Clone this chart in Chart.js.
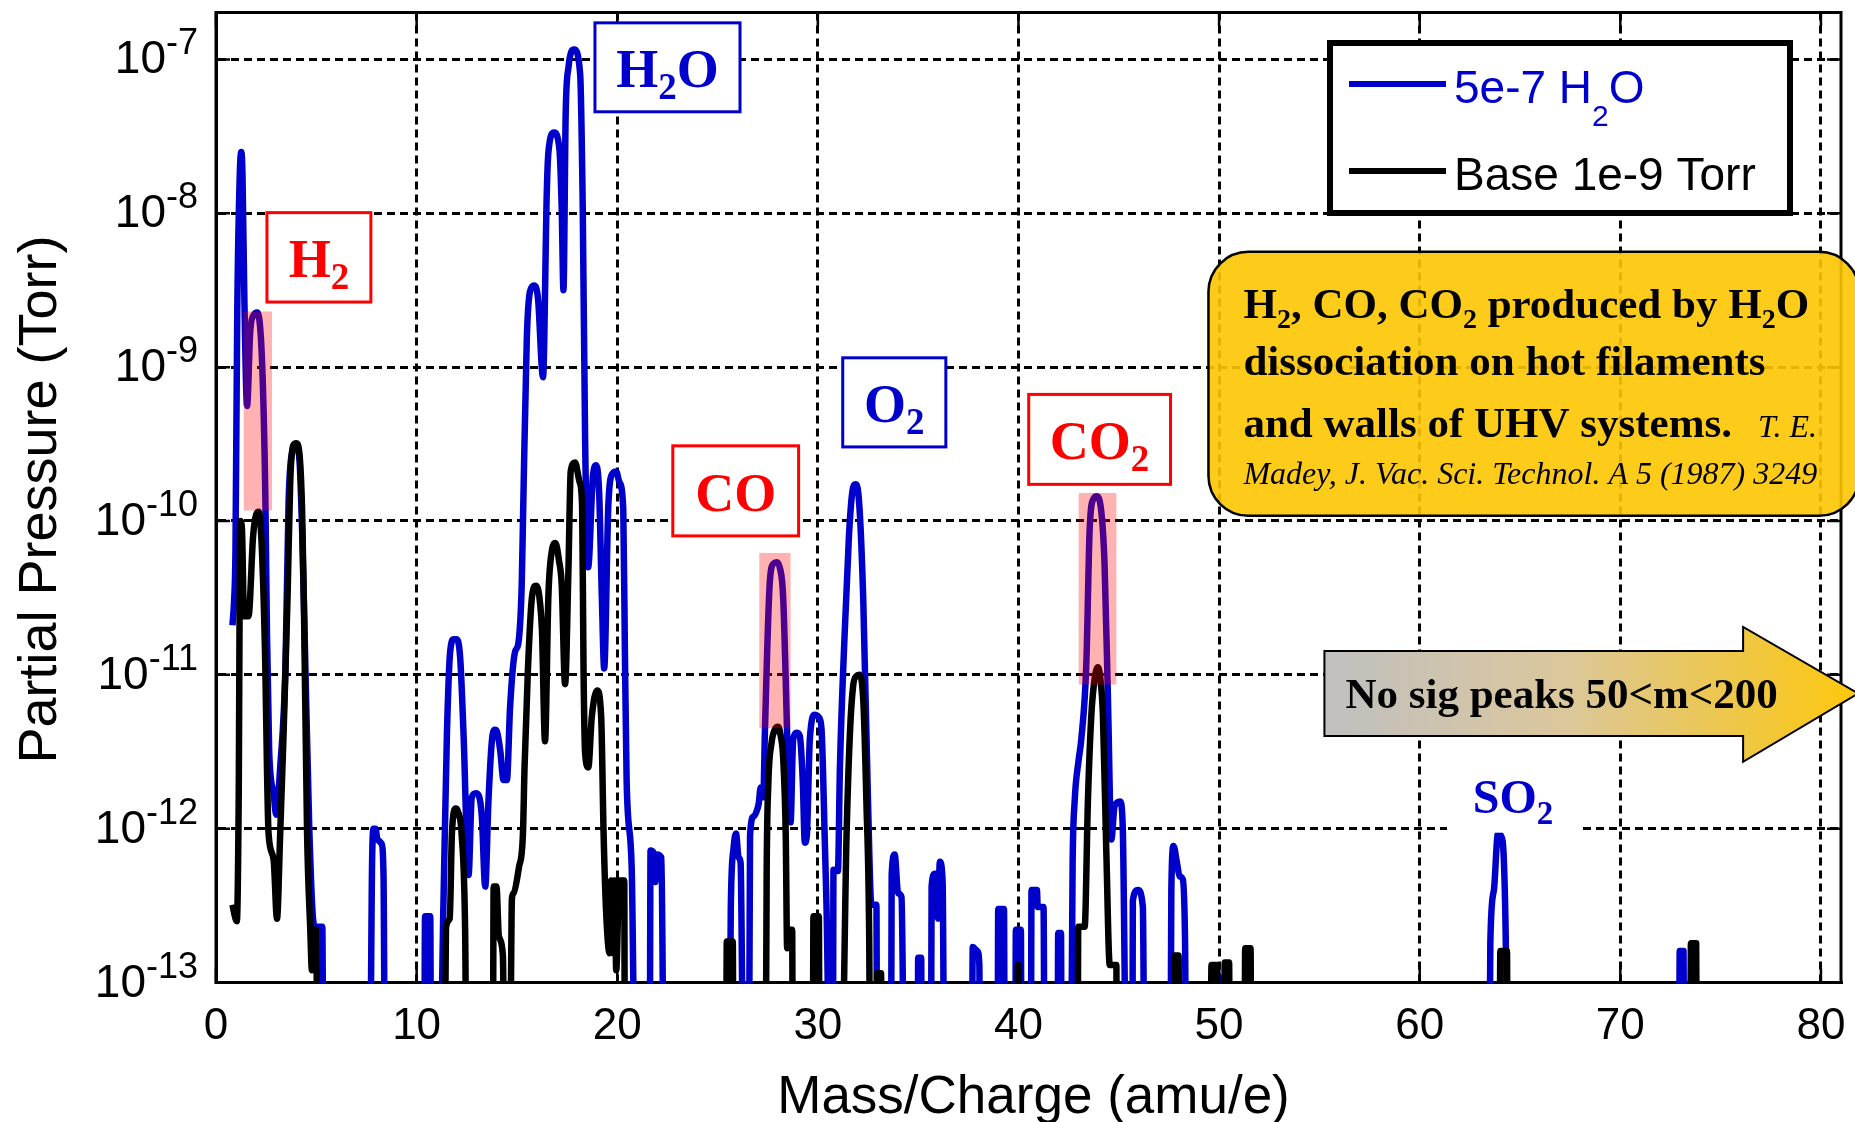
<!DOCTYPE html>
<html>
<head>
<meta charset="utf-8">
<title>Partial pressure scan</title>
<script src="https://cdn.jsdelivr.net/npm/chart.js@4.4.1/dist/chart.umd.min.js"></script>
<style>
  html, body { margin: 0; padding: 0; background: #fff; }
  #wrap { width: 1855px; height: 1122px; }
</style>
</head>
<body>
<div id="wrap"><canvas id="chart"></canvas></div>
<script>
"use strict";

// below the bottom of the axis: the trace drops straight to the floor
const F = 3e-14;

// [mass/charge, partial pressure (Torr)] - chamber dosed with 5e-7 Torr of water
const waterScan = [
  [0.82, 2.1e-11], [0.9, 3e-11], [0.97, 6.4e-11], [1.06, 2.3e-9], [1.18, 1.7e-8], [1.26, 2.5e-8],
  [1.32, 1.8e-8], [1.42, 2.5e-9], [1.55, 5.6e-10], [1.71, 1.74e-9], [1.9, 2.2e-9], [2.05, 2.27e-9],
  [2.3, 1.05e-9], [2.46, 1.43e-10], [2.54, 1.9e-11], [2.65, 3.2e-12], [2.87, 1.7e-12], [3.0, 1.23e-12],
  [3.2, 2.5e-12], [3.46, 1.1e-11], [3.62, 1.36e-10], [3.8, 2.8e-10], [4.0, 3.0e-10], [4.15, 2.6e-10],
  [4.3, 8e-11], [4.45, 1.2e-11], [4.65, 1e-12], [4.85, 2.5e-13], [4.95, 2.3e-13], [5.3, 2.3e-13], [5.35, F],
  [7.68, F], [7.78, 6e-13], [7.85, 1e-12], [7.95, 1e-12], [8.05, 8.5e-13], [8.25, 8e-13], [8.35, 5e-13], [8.42, F],
  [10.38, F], [10.42, 2.7e-13], [10.68, 2.7e-13], [10.72, F],
  [11.17, F], [11.34, 3.4e-13], [11.51, 4.1e-12], [11.67, 1.4e-11], [11.85, 1.7e-11], [11.98, 1.7e-11],
  [12.17, 1.3e-11], [12.34, 4.1e-12], [12.59, 5e-13], [12.75, 1.6e-12], [12.95, 1.7e-12], [13.09, 1.65e-12],
  [13.25, 1.2e-12], [13.42, 4.2e-13], [13.58, 1.5e-12], [13.75, 3.7e-12], [13.9, 4.4e-12], [14.0, 4.3e-12],
  [14.17, 3.2e-12], [14.33, 2.07e-12], [14.5, 2.07e-12], [14.66, 6.2e-12], [14.9, 1.4e-11], [15.07, 1.6e-11],
  [15.24, 3.9e-11], [15.32, 1.35e-10], [15.49, 1.5e-9], [15.65, 3.1e-9], [15.85, 3.4e-9], [16.05, 2.8e-9],
  [16.3, 8.6e-10], [16.49, 1.4e-8], [16.57, 2.5e-8], [16.85, 3.35e-8], [17.12, 2.6e-8], [17.23, 1.1e-8],
  [17.32, 3.16e-9], [17.43, 4.4e-8], [17.57, 8.9e-8], [17.85, 1.16e-7], [18.15, 8.1e-8], [18.28, 1.1e-8],
  [18.4, 3.3e-10], [18.55, 5e-11], [18.78, 1.9e-10], [18.95, 2.3e-10], [19.1, 1.5e-10], [19.23, 3.3e-11],
  [19.35, 1.1e-11], [19.56, 1.3e-10], [19.78, 2.05e-10], [19.95, 2.1e-10], [20.1, 1.8e-10], [20.3, 1.2e-10],
  [20.38, 1.5e-11], [20.47, 2e-12], [20.72, 5.6e-13], [20.88, F],
  [21.62, F], [21.66, 7.2e-13], [21.8, 7e-13], [21.9, 4.5e-13], [21.97, 6.8e-13], [22.2, 6.5e-13], [22.32, F],
  [25.6, F], [25.66, 3e-13], [25.8, 7.5e-13], [25.92, 9.3e-13], [26.05, 6.5e-13], [26.15, 6e-13], [26.28, F],
  [26.57, F], [26.62, 9e-13], [26.8, 1.2e-12], [26.95, 1.3e-12], [27.05, 1.45e-12], [27.15, 1.85e-12],
  [27.28, 1.6e-12], [27.36, 4.2e-12], [27.61, 4.1e-11], [27.8, 5.3e-11], [27.94, 5.4e-11], [28.1, 5e-11],
  [28.27, 3.2e-11], [28.52, 2.5e-12], [28.64, 1.1e-12], [28.77, 3.8e-12], [28.94, 4.2e-12], [29.1, 4e-12],
  [29.25, 2e-12], [29.35, 8.1e-13], [29.45, 9e-13], [29.6, 3.8e-12], [29.85, 5.5e-12], [30.05, 5.3e-12],
  [30.18, 4.5e-12], [30.35, 8e-13], [30.43, 3.2e-13], [30.58, F],
  [30.75, F], [30.78, 5.4e-13], [31.0, 5.3e-13], [31.1, 2.5e-12], [31.34, 1.9e-11], [31.55, 8e-11],
  [31.72, 1.55e-10], [31.87, 1.73e-10], [32.02, 1.5e-10], [32.26, 3.2e-11], [32.5, 1.5e-12], [32.67, 3.2e-13],
  [32.92, 3.2e-13], [32.95, F],
  [33.65, F], [33.68, 5e-13], [33.83, 6.8e-13], [34.0, 3.8e-13], [34.17, 3.6e-13], [34.3, F],
  [34.98, F], [35.0, 1.45e-13], [35.15, 1.45e-13], [35.18, F],
  [35.64, F], [35.67, 4.2e-13], [35.83, 5.1e-13], [35.99, 2.6e-13], [36.08, 6.1e-13], [36.22, 4.5e-13], [36.3, F],
  [37.68, F], [37.72, 1.7e-13], [37.95, 1.6e-13], [38.05, 1.3e-13], [38.08, F],
  [38.96, F], [38.99, 3e-13], [39.28, 3e-13], [39.31, F],
  [39.84, F], [39.87, 2.2e-13], [40.12, 2.2e-13], [40.15, F],
  [40.62, F], [40.65, 4e-13], [40.92, 4e-13], [40.96, 3.1e-13], [41.25, 3.1e-13], [41.3, F],
  [41.95, F], [41.98, 2.1e-13], [42.12, 2.1e-13], [42.15, F],
  [42.62, F], [42.7, 6e-13], [42.8, 1.5e-12], [43.0, 2.8e-12], [43.13, 3.8e-12], [43.38, 1.15e-11],
  [43.55, 8.9e-11], [43.75, 1.4e-10], [43.9, 1.45e-10], [44.05, 1.35e-10], [44.29, 5.3e-11], [44.46, 7e-12],
  [44.63, 8.5e-13], [44.79, 1.4e-12], [45.07, 1.5e-12], [45.2, 1e-12], [45.37, F],
  [45.68, F], [45.7, 3.4e-13], [45.95, 4e-13], [46.2, 3.1e-13], [46.28, F],
  [47.58, F], [47.62, 4e-13], [47.73, 7.7e-13], [47.9, 6e-13], [48.03, 4.9e-13], [48.19, 4.7e-13], [48.3, 2e-13], [48.36, F],
  [49.85, F], [49.88, 1.1e-13], [49.98, 1.1e-13], [50.0, F],
  [63.48, F], [63.52, 1.8e-13], [63.7, 4e-13], [63.9, 9.3e-13], [64.05, 9e-13], [64.2, 6e-13], [64.3, 1.5e-13], [64.35, F],
  [72.93, F], [72.96, 1.6e-13], [73.15, 1.6e-13], [73.18, F]
];

// [mass/charge, partial pressure (Torr)] - base vacuum, 1e-9 Torr
const baseScan = [
  [0.82, 3.2e-13], [0.97, 2.6e-13], [1.04, 2.5e-13], [1.13, 1.5e-12], [1.21, 1e-10], [1.29, 9e-11],
  [1.4, 2.4e-11], [1.62, 2.4e-11], [1.85, 8e-11], [2.0, 1.1e-10], [2.13, 1.15e-10], [2.29, 6.4e-11],
  [2.46, 1.1e-11], [2.54, 2.5e-12], [2.62, 9.3e-13], [2.87, 6.3e-13], [3.04, 2.6e-13], [3.2, 9.3e-13],
  [3.37, 4.2e-12], [3.57, 3.3e-11], [3.7, 1.8e-10], [3.85, 3.1e-10], [4.0, 3.2e-10], [4.15, 2.8e-10],
  [4.29, 1.2e-10], [4.38, 3e-11], [4.54, 9.3e-13], [4.7, 2.2e-13], [4.78, 1.2e-13], [4.82, 2.2e-13],
  [5.0, 2.2e-13], [5.05, F],
  [11.4, F], [11.47, 2.3e-13], [11.65, 2.6e-13], [11.76, 9.3e-13], [11.95, 1.35e-12], [12.05, 1.3e-12],
  [12.25, 9e-13], [12.42, 2.1e-13], [12.48, F],
  [13.8, F], [13.84, 4.2e-13], [13.98, 4.2e-13], [14.1, 2e-13], [14.3, 1.5e-13], [14.37, F],
  [14.66, F], [14.75, 3.5e-13], [14.83, 3.8e-13], [15.1, 5.6e-13], [15.3, 9.3e-13], [15.38, 2.5e-12],
  [15.55, 1.1e-11], [15.75, 3.2e-11], [15.95, 3.8e-11], [16.12, 3.2e-11], [16.25, 1.9e-11], [16.4, 3.7e-12],
  [16.57, 3.3e-11], [16.75, 6.5e-11], [16.92, 7.2e-11], [17.1, 5.5e-11], [17.23, 3.9e-11], [17.4, 8.7e-12],
  [17.57, 5e-11], [17.68, 2.1e-10], [17.9, 2.4e-10], [18.12, 1.8e-10], [18.25, 1.25e-10], [18.32, 1.1e-11],
  [18.4, 3.1e-12], [18.56, 2.5e-12], [18.73, 5.3e-12], [19.0, 7.9e-12], [19.2, 5.3e-12], [19.32, 9.3e-13],
  [19.45, 2.8e-13], [19.62, 1.55e-13], [19.7, 4.6e-13], [19.78, 1.55e-13], [19.87, 4.6e-13], [19.95, 1.2e-13],
  [20.1, 4.6e-13], [20.35, 4.6e-13], [20.38, F],
  [25.43, F], [25.46, 1.85e-13], [25.76, 1.85e-13], [25.79, F],
  [27.4, F], [27.45, 5.5e-13], [27.53, 1.94e-12], [27.69, 3.6e-12], [27.85, 4.4e-12], [28.02, 4.6e-12],
  [28.15, 4e-12], [28.27, 2.9e-12], [28.4, 9e-13], [28.47, 1.67e-13], [28.5, 2.2e-13], [28.72, 2.2e-13], [28.75, F],
  [29.75, F], [29.78, 2.7e-13], [30.05, 2.7e-13], [30.08, F],
  [31.2, F], [31.43, 9e-13], [31.6, 4.2e-12], [31.76, 8.5e-12], [31.92, 9.8e-12], [32.06, 1e-11],
  [32.26, 7e-12], [32.42, 1.5e-12], [32.56, 1.95e-13], [32.6, F],
  [32.93, F], [32.96, 1.15e-13], [33.15, 1.15e-13], [33.18, F],
  [39.95, F], [39.97, 1.3e-13], [40.0, 1.3e-13], [40.02, F],
  [42.95, F], [42.98, 2.3e-13], [43.3, 2.3e-13], [43.46, 1.5e-12], [43.63, 5.4e-12], [43.8, 9.5e-12],
  [43.96, 1.12e-11], [44.08, 9.5e-12], [44.21, 5.4e-12], [44.38, 7e-13], [44.55, 1.3e-13], [44.88, 1.3e-13], [44.9, F],
  [47.75, F], [47.78, 1.5e-13], [47.98, 1.5e-13], [48.01, F],
  [49.58, F], [49.62, 1.3e-13], [49.9, 1.3e-13], [49.93, F],
  [50.25, F], [50.28, 1.35e-13], [50.5, 1.35e-13], [50.53, F],
  [51.27, F], [51.3, 1.67e-13], [51.57, 1.67e-13], [51.6, F],
  [63.98, F], [64.02, 1.6e-13], [64.35, 1.6e-13], [64.38, F],
  [73.48, F], [73.52, 1.8e-13], [73.78, 1.8e-13], [73.81, F]
];

const seriesLabels = ['5e-7 H_2O', 'Base 1e-9 Torr'];
const decades = [1e-13, 1e-12, 1e-11, 1e-10, 1e-9, 1e-8, 1e-7];
const massRange = [0, 81];
const pressureRange = [1e-13, 2.02e-7];

// peaks of the dissociation products, shaded
const highlights = [
  { m: [1.38, 2.79], p: [1.17e-10, 2.3e-9] },
  { m: [27.08, 28.64], p: [4.5e-12, 6.2e-11] },
  { m: [43.0, 44.88], p: [8.65e-12, 1.52e-10] }
];

// "_x" marks a one-character subscript
const peakLabels = [
  { text: 'H_2',  color: 'red',  m: [2.54, 7.72],   p: [2.65e-9, 1.01e-8] },
  { text: 'H_2O', color: 'blue', m: [18.89, 26.12], p: [4.57e-8, 1.73e-7] },
  { text: 'CO',   color: 'red',  m: [22.77, 29.04], p: [8.0e-11, 3.08e-10] },
  { text: 'O_2',  color: 'blue', m: [31.24, 36.38], p: [3.03e-10, 1.15e-9] },
  { text: 'CO_2', color: 'red',  m: [40.51, 47.58], p: [1.73e-10, 6.65e-10] }
];
const looseLabels = [
  { text: 'SO_2', color: 'blue', m: 64.65, p: 1.27e-12 }
];

const note = {
  m: [49.47, 81.9], p: [1.08e-10, 5.62e-9],
  lines: ['H_2, CO, CO_2 produced by H_2O', 'dissociation on hot filaments', 'and walls of UHV systems.'],
  cite: ['T. E.', 'Madey, J. Vac. Sci. Technol. A 5 (1987) 3249']
};

const arrow = {
  m: [55.25, 76.12, 81.85], body: [4.0e-12, 1.43e-11], head: [2.72e-12, 2.05e-11],
  text: 'No sig peaks 50<m<200'
};

const COLORS = { blue: '#0000cc', red: '#ff0000' };
const SANS = '"Liberation Sans", Arial, sans-serif';
const SERIF = '"Liberation Serif", "Times New Roman", serif';

function toPoints(scan) {
  return scan.map(function(d) { return { x: d[0], y: d[1] }; });
}

function richParts(str) {
  const parts = [];
  let buf = '';
  for (let i = 0; i < str.length; i++) {
    if (str[i] === '_') {
      if (buf) parts.push({ t: buf, sub: false });
      buf = '';
      parts.push({ t: str[++i], sub: true });
    } else {
      buf += str[i];
    }
  }
  if (buf) parts.push({ t: buf, sub: false });
  return parts;
}

// draws text with subscripts, returns its width
function drawRich(ctx, str, x, y, o) {
  const parts = richParts(str);
  const fontOf = function(p) { return (o.style || '') + ' ' + (p.sub ? o.subSize : o.size) + 'px ' + o.family; };
  let w = 0;
  parts.forEach(function(p) { ctx.font = fontOf(p); p.w = ctx.measureText(p.t).width; w += p.w; });
  let cx = o.center ? x - w / 2 : x;
  ctx.textAlign = 'left';
  ctx.textBaseline = 'alphabetic';
  parts.forEach(function(p) {
    ctx.font = fontOf(p);
    ctx.fillText(p.t, cx, p.sub ? y + o.subDrop : y);
    cx += p.w;
  });
  return w;
}

function boxOf(chart, m, p) {
  const xs = chart.scales.x, ys = chart.scales.y;
  const left = xs.getPixelForValue(m[0]), right = xs.getPixelForValue(m[1]);
  const top = ys.getPixelForValue(p[1]), bottom = ys.getPixelForValue(p[0]);
  return { left: left, top: top, right: right, bottom: bottom, w: right - left, h: bottom - top };
}

function roundRectPath(ctx, x, y, w, h, r) {
  ctx.beginPath();
  ctx.moveTo(x + r, y);
  ctx.arcTo(x + w, y, x + w, y + h, r);
  ctx.arcTo(x + w, y + h, x, y + h, r);
  ctx.arcTo(x, y + h, x, y, r);
  ctx.arcTo(x, y, x + w, y, r);
  ctx.closePath();
}

function drawFrame(chart) {
  const ctx = chart.ctx, a = chart.chartArea, xs = chart.scales.x, ys = chart.scales.y;
  ctx.save();
  ctx.strokeStyle = '#000';
  ctx.lineWidth = 2.5;
  ctx.beginPath();
  xs.ticks.forEach(function(t) {
    const px = xs.getPixelForValue(t.value);
    ctx.moveTo(px, a.top); ctx.lineTo(px, a.top + 14);
    ctx.moveTo(px, a.bottom); ctx.lineTo(px, a.bottom - 14);
  });
  ys.ticks.forEach(function(t) {
    const py = ys.getPixelForValue(t.value);
    ctx.moveTo(a.left, py); ctx.lineTo(a.left + 14, py);
    ctx.moveTo(a.right, py); ctx.lineTo(a.right - 14, py);
  });
  ctx.stroke();
  ctx.lineWidth = 3;
  ctx.strokeRect(a.left, a.top, a.right - a.left, a.bottom - a.top);
  ctx.restore();
}

function drawHighlights(chart) {
  const ctx = chart.ctx;
  ctx.save();
  ctx.fillStyle = 'rgba(255, 0, 0, 0.3)';
  highlights.forEach(function(h) {
    const b = boxOf(chart, h.m, h.p);
    ctx.fillRect(b.left, b.top, b.w, b.h);
  });
  ctx.restore();
}

function drawPeakLabels(chart) {
  const ctx = chart.ctx;
  ctx.save();
  peakLabels.forEach(function(l) {
    const b = boxOf(chart, l.m, l.p);
    const col = COLORS[l.color];
    ctx.fillStyle = '#fff';
    ctx.fillRect(b.left, b.top, b.w, b.h);
    ctx.strokeStyle = col;
    ctx.lineWidth = 3;
    ctx.strokeRect(b.left, b.top, b.w, b.h);
    ctx.fillStyle = col;
    drawRich(ctx, l.text, (b.left + b.right) / 2, (b.top + b.bottom) / 2 + 20,
             { size: 54, subSize: 37, subDrop: 12, family: SERIF, style: 'bold', center: true });
  });
  looseLabels.forEach(function(l) {
    const x = chart.scales.x.getPixelForValue(l.m), y = chart.scales.y.getPixelForValue(l.p);
    ctx.font = 'bold 48px ' + SERIF;
    const w = ctx.measureText(l.text.replace('_', '')).width;
    ctx.fillStyle = '#fff';
    ctx.fillRect(x - w / 2 - 22, y - 46, w + 44, 66);
    ctx.fillStyle = COLORS[l.color];
    drawRich(ctx, l.text, x, y, { size: 48, subSize: 33, subDrop: 11, family: SERIF, style: 'bold', center: true });
  });
  ctx.restore();
}

function drawNote(chart) {
  const ctx = chart.ctx, b = boxOf(chart, note.m, note.p);
  ctx.save();
  roundRectPath(ctx, b.left, b.top, b.w, b.h, 40);
  ctx.fillStyle = 'rgba(253, 197, 0, 0.9)';
  ctx.fill();
  ctx.strokeStyle = '#000';
  ctx.lineWidth = 2.5;
  ctx.stroke();
  ctx.fillStyle = '#000';
  const x = b.left + 35;
  const rich = { size: 43, subSize: 28, subDrop: 10, family: SERIF, style: 'bold' };
  drawRich(ctx, note.lines[0], x, b.top + 66, rich);
  drawRich(ctx, note.lines[1], x, b.top + 123, rich);
  const w = drawRich(ctx, note.lines[2], x, b.top + 185, rich);
  ctx.font = 'italic 32px ' + SERIF;
  ctx.fillText(note.cite[0], x + w + 26, b.top + 185);
  ctx.fillText(note.cite[1], x, b.top + 232);
  ctx.restore();
}

function drawArrow(chart) {
  const ctx = chart.ctx, xs = chart.scales.x, ys = chart.scales.y;
  const x0 = xs.getPixelForValue(arrow.m[0]), x1 = xs.getPixelForValue(arrow.m[1]), x2 = xs.getPixelForValue(arrow.m[2]);
  const bt = ys.getPixelForValue(arrow.body[1]), bb = ys.getPixelForValue(arrow.body[0]);
  const ht = ys.getPixelForValue(arrow.head[1]), hb = ys.getPixelForValue(arrow.head[0]);
  const mid = (bt + bb) / 2;
  ctx.save();
  const g = ctx.createLinearGradient(x0, 0, x2, 0);
  g.addColorStop(0, '#c0c0c0');
  g.addColorStop(0.45, '#dbc79c');
  g.addColorStop(1, '#fdc70c');
  ctx.beginPath();
  ctx.moveTo(x0, bt); ctx.lineTo(x1, bt); ctx.lineTo(x1, ht); ctx.lineTo(x2, mid);
  ctx.lineTo(x1, hb); ctx.lineTo(x1, bb); ctx.lineTo(x0, bb);
  ctx.closePath();
  ctx.fillStyle = g;
  ctx.fill();
  ctx.strokeStyle = '#000';
  ctx.lineWidth = 2;
  ctx.stroke();
  ctx.fillStyle = '#000';
  ctx.font = 'bold 43px ' + SERIF;
  ctx.textBaseline = 'alphabetic';
  ctx.fillText(arrow.text, x0 + 21, mid + 15);
  ctx.restore();
}

function drawLegend(chart) {
  const ctx = chart.ctx, a = chart.chartArea;
  const w = 460, h = 170;
  const left = a.right - 51 - w, top = a.top + 30.5;
  ctx.save();
  ctx.fillStyle = '#fff';
  ctx.fillRect(left, top, w, h);
  ctx.strokeStyle = '#000';
  ctx.lineWidth = 6;
  ctx.strokeRect(left, top, w, h);
  chart.data.datasets.forEach(function(ds, i) {
    const ly = top + 41 + i * 87;
    ctx.strokeStyle = ds.borderColor;
    ctx.lineWidth = 6;
    ctx.beginPath(); ctx.moveTo(left + 19, ly); ctx.lineTo(left + 116, ly); ctx.stroke();
    ctx.fillStyle = ds.borderColor;
    drawRich(ctx, ds.label, left + 124, ly + 19, { size: 46, subSize: 30, subDrop: 23, family: SANS });
  });
  ctx.restore();
}

function drawAxisText(chart) {
  const ctx = chart.ctx, a = chart.chartArea, ys = chart.scales.y;
  ctx.save();
  ctx.fillStyle = '#000';
  ctx.textBaseline = 'alphabetic';
  // decade labels as 10 with a raised exponent
  const right = a.left - 18;
  ys.ticks.forEach(function(t) {
    const py = ys.getPixelForValue(t.value);
    const exp = String(Math.round(Math.log10(t.value)));
    ctx.font = '36px ' + SANS;
    const we = ctx.measureText(exp).width;
    ctx.textAlign = 'left';
    ctx.fillText(exp, right - we, py - 5);
    ctx.font = '46px ' + SANS;
    ctx.textAlign = 'right';
    ctx.fillText('10', right - we, py + 14);
  });
  ctx.font = '53px ' + SANS;
  ctx.textAlign = 'center';
  ctx.fillText('Mass/Charge (amu/e)', (a.left + a.right) / 2 + 5, a.bottom + 130);
  ctx.font = '54px ' + SANS;
  ctx.translate(56, (a.top + a.bottom) / 2 + 2);
  ctx.rotate(-Math.PI / 2);
  ctx.fillText('Partial Pressure (Torr)', 0, 0);
  ctx.restore();
}

const overlay = {
  id: 'overlay',
  beforeDatasetsDraw: function(chart) { drawFrame(chart); },
  afterDatasetsDraw: function(chart) {
    drawHighlights(chart);
    drawPeakLabels(chart);
    drawNote(chart);
    drawArrow(chart);
    drawLegend(chart);
  },
  afterDraw: function(chart) { drawAxisText(chart); }
};

const gridStyle = { color: '#000', lineWidth: 3, drawTicks: false };
const borderStyle = { display: true, color: '#000', width: 3, dash: [8, 5] };

new Chart(document.getElementById('chart'), {
  type: 'line',
  data: {
    datasets: [
      { label: seriesLabels[0], data: toPoints(waterScan), borderColor: COLORS.blue, borderWidth: 6.5, order: 1 },
      { label: seriesLabels[1], data: toPoints(baseScan), borderColor: '#000', borderWidth: 6.5, order: 0 }
    ]
  },
  options: {
    responsive: true,
    maintainAspectRatio: false,
    animation: false,
    layout: { padding: { top: 12.5, right: 14, left: 0, bottom: 0 } },
    elements: {
      point: { radius: 0 },
      line: { cubicInterpolationMode: 'monotone', borderJoinStyle: 'round', fill: false }
    },
    datasets: { line: { clip: { left: 0, top: 5, right: 0, bottom: 1 } } },
    plugins: { legend: { display: false }, tooltip: { enabled: false } },
    scales: {
      x: {
        type: 'linear', min: massRange[0], max: massRange[1],
        ticks: { stepSize: 10, includeBounds: false, autoSkip: false, maxRotation: 0, padding: 18,
                 color: '#000', font: { family: SANS, size: 44 } },
        grid: gridStyle,
        border: borderStyle,
        afterFit: function(scale) {
          scale.height = 139.5;
          // the end labels fit inside the canvas, no extra side padding
          scale.paddingLeft = 0;
          scale.paddingRight = 0;
        }
      },
      y: {
        type: 'logarithmic', min: pressureRange[0], max: pressureRange[1],
        ticks: { display: false },
        afterBuildTicks: function(scale) { scale.ticks = decades.map(function(v) { return { value: v }; }); },
        grid: gridStyle,
        border: borderStyle,
        afterFit: function(scale) { scale.width = 216; }
      }
    }
  },
  plugins: [overlay]
});
</script>
</body>
</html>
